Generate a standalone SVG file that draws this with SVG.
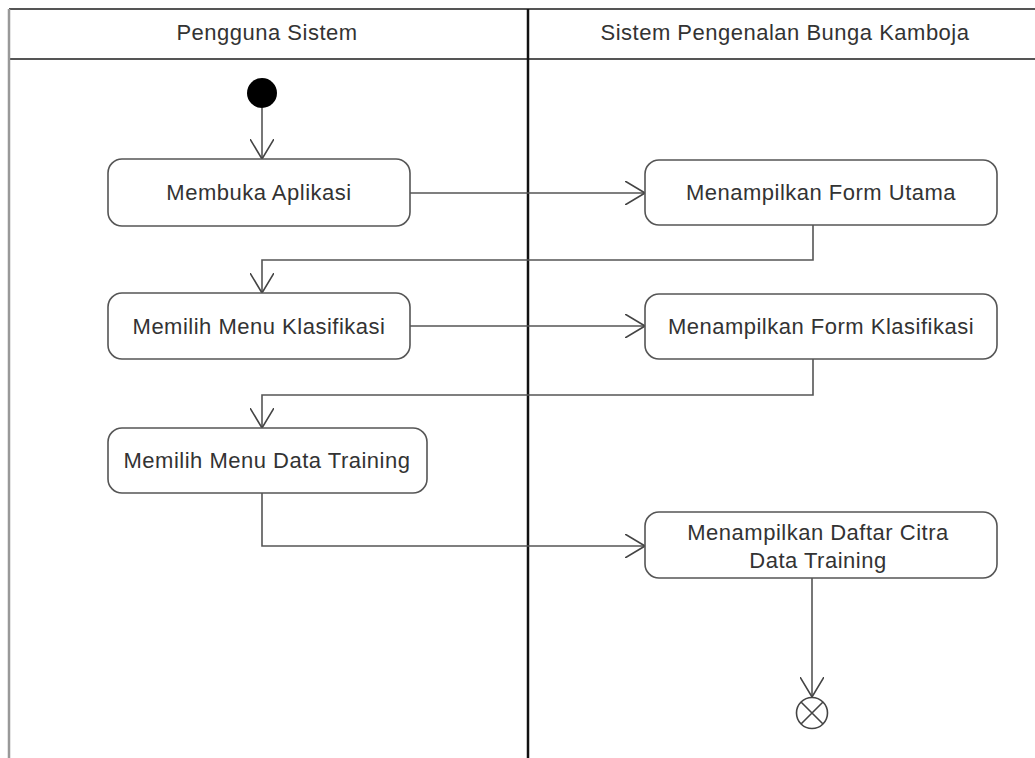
<svg xmlns="http://www.w3.org/2000/svg" width="1035" height="758" viewBox="0 0 1035 758">
<style>
.lane{stroke:#555;stroke-width:2;fill:none}
.div{stroke:#111;stroke-width:2.5;fill:none}
.box{fill:#fff;stroke:#555;stroke-width:1.6}
.t{font-family:"Liberation Sans",Arial,sans-serif;font-size:22px;letter-spacing:0.5px;fill:#333;text-anchor:middle}
.h{font-family:"Liberation Sans",Arial,sans-serif;font-size:22px;letter-spacing:0.5px;fill:#333;text-anchor:middle}
.c{stroke:#555;stroke-width:1.6;fill:none;marker-end:url(#arr)}
</style>
<defs>
<marker id="arr" viewBox="0 0 20 24" markerWidth="20" markerHeight="24" refX="20" refY="12" orient="auto" markerUnits="userSpaceOnUse">
<path d="M0,0 L20,12 L0,24" fill="none" stroke="#444" stroke-width="1.6"/>
</marker>
</defs>
<rect width="1035" height="758" fill="#fff"/>
<g id="swimlanes">
<line class="lane" x1="9" y1="9" x2="1035" y2="9"/>
<line class="lane" x1="9" y1="59" x2="1035" y2="59"/>
<line x1="9" y1="9" x2="9" y2="758" stroke="#999" stroke-width="2.5"/>
<line class="div" x1="528" y1="9" x2="528" y2="758"/>
<text class="h" x="267" y="40">Pengguna Sistem</text>
<text class="h" x="785" y="40">Sistem Pengenalan Bunga Kamboja</text>
</g>
<g id="connectors">
<path class="c" d="M262,108 V159"/>
<path class="c" d="M410,193 H645"/>
<path class="c" d="M813,225 V260 H262 V293"/>
<path class="c" d="M410,326 H645"/>
<path class="c" d="M813,359 V395 H262 V428"/>
<path class="c" d="M262,493 V546 H645"/>
<path class="c" d="M812,578 V697"/>
</g>
<g id="start"><circle cx="262" cy="93" r="15" fill="#000"/></g>
<g id="n1"><rect class="box" x="108" y="159" width="302" height="67" rx="14"/><text class="t" x="259" y="200">Membuka Aplikasi</text></g>
<g id="n2"><rect class="box" x="645" y="160" width="352" height="65" rx="14"/><text class="t" x="821" y="200">Menampilkan Form Utama</text></g>
<g id="n3"><rect class="box" x="108" y="293" width="302" height="66" rx="14"/><text class="t" x="259" y="334">Memilih Menu Klasifikasi</text></g>
<g id="n4"><rect class="box" x="645" y="294" width="352" height="65" rx="14"/><text class="t" x="821" y="334">Menampilkan Form Klasifikasi</text></g>
<g id="n5"><rect class="box" x="108" y="428" width="319" height="65" rx="14"/><text class="t" x="267" y="468">Memilih Menu Data Training</text></g>
<g id="n6"><rect class="box" x="645" y="512" width="352" height="66" rx="14"/><text class="t" x="818" y="540">Menampilkan Daftar Citra</text><text class="t" x="818" y="568">Data Training</text></g>
<g id="end"><circle cx="812" cy="713" r="15.5" fill="#fff" stroke="#444" stroke-width="1.6"/><path d="M801,702 L823,724 M823,702 L801,724" stroke="#444" stroke-width="1.6"/></g>
</svg>
